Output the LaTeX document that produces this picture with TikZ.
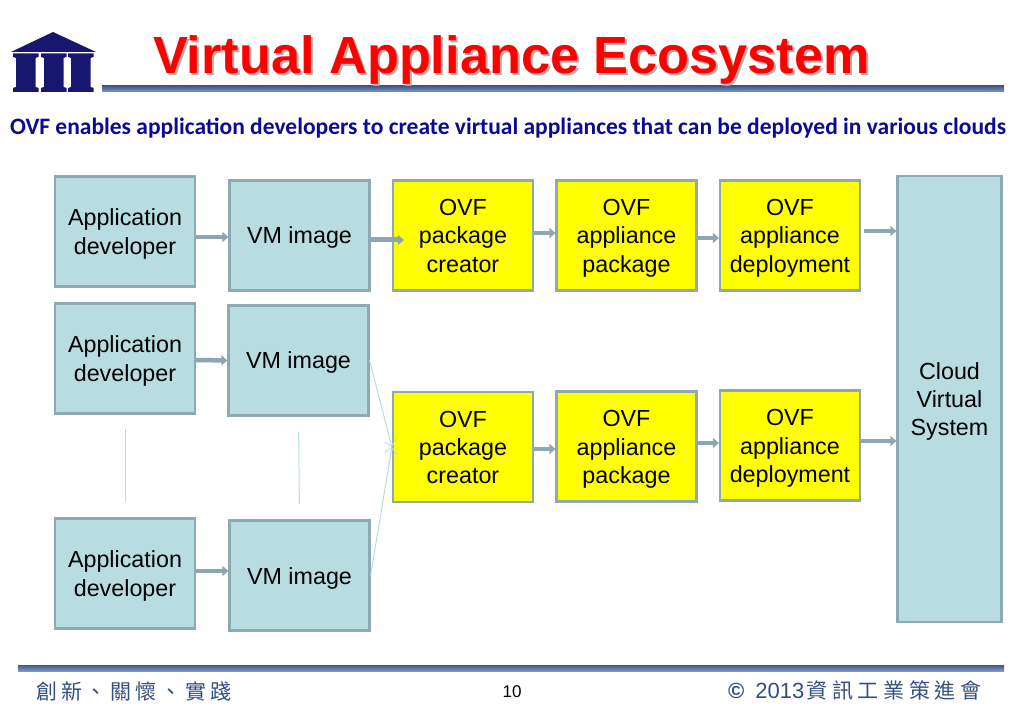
\documentclass[tikz,border=0pt]{standalone}
\usepackage{fontspec}
\setmainfont{Liberation Sans}
\newfontfamily\calibrifont{Carlito}
\newfontfamily\cjkfont{Noto Sans CJK TC}
\usetikzlibrary{arrows.meta}
\definecolor{boxfill}{HTML}{B7DDE3}
\definecolor{boxline}{HTML}{8FA9B0}
\definecolor{arrowcol}{HTML}{8DA6B2}
\definecolor{thinline}{HTML}{BCDCE3}
\definecolor{navy}{HTML}{17176F}
\definecolor{subblue}{HTML}{0A0A96}
\definecolor{footblue}{HTML}{34507F}
\definecolor{ruletop}{HTML}{40598F}
\definecolor{rulebot}{HTML}{7E98C4}
\definecolor{ovfyellow}{rgb}{1,1,0}
\definecolor{titlered}{rgb}{1,0,0}
\definecolor{shadowgray}{HTML}{B0B0B0}
\newcommand{\tx}[1]{\rule{0pt}{23pt}#1\rule[-6pt]{0pt}{6pt}}
\tikzset{
  x=1pt,y=-1pt,
  flowbox/.style={draw=boxline,line width=2.2pt,minimum width=140pt,minimum height=110pt,inner sep=0pt,align=center,text=black,font=\fontsize{23.3}{28.4}\selectfont},
  lightbox/.style={flowbox,fill=boxfill},
  ovfbox/.style={flowbox,fill=ovfyellow},
  flow/.style={draw=arrowcol,line width=4.5pt,-{Triangle[length=6pt,width=10pt]}},
  thinflow/.style={draw=thinline,line width=1pt,-{Straight Barb[length=6pt,width=12pt]}},
  thinrule/.style={draw=thinline,line width=1pt},
  headrule/.style={top color=ruletop,bottom color=rulebot,draw=none},
  column/.style={fill=navy,draw=none},
  titletext/.style={font=\fontsize{52.3}{56}\bfseries\selectfont,inner sep=0pt},
  foot/.style={text=footblue,inner sep=0pt,anchor=west}
}
\begin{document}
\begin{tikzpicture}
\useasboundingbox[fill=white] (0,0) rectangle (1023,708);
% logo
\fill[navy] (11,52) -- (53,32) -- (96,52) -- cycle;
\foreach \x in {13,41,68}{
  \fill[column] (\x,53.5) -- ++(25.5,0) -- ++(0,3.5) -- ++(-3,1) -- ++(0,29) -- ++(3,1) -- ++(0,4) -- ++(-25.5,0) -- ++(0,-4) -- ++(3,-1) -- ++(0,-29) -- ++(-3,-1) -- cycle;
}
% rules
\shade[headrule] (102,86) rectangle (1004,92);
\shade[headrule] (18,665) rectangle (1004,671);
% title
\node[titletext,text=shadowgray] at (513.5,62) {Virtual Appliance Ecosystem};
\node[titletext,text=titlered] (title) at (511.5,60) {Virtual Appliance Ecosystem};
\node[font=\calibrifont\fontsize{23.5}{26}\bfseries\selectfont,text=subblue,inner sep=0pt] (sub) at (508,128) {OVF enables application developers to create virtual appliances that can be deployed in various clouds};
% boxes
\node[lightbox] (A1) at (125,231.5) {\tx{Application\\developer}};
\node[lightbox] (V1) at (299.5,235.5) {\tx{VM image}};
\node[ovfbox] (O1) at (463,235.5) {\tx{OVF\\package\\creator}};
\node[ovfbox] (P1) at (626.5,235.5) {\tx{OVF\\appliance\\package}};
\node[ovfbox] (D1) at (790,235.5) {\tx{OVF\\appliance\\deployment}};
\node[lightbox] (A2) at (125,358.5) {\tx{Application\\developer}};
\node[lightbox] (V2) at (298.5,360.5) {\tx{VM image}};
\node[lightbox] (A3) at (125,573.5) {\tx{Application\\developer}};
\node[lightbox] (V3) at (299.5,575.5) {\tx{VM image}};
\node[ovfbox] (O2) at (463,447) {\tx{OVF\\package\\creator}};
\node[ovfbox] (P2) at (626.5,446.5) {\tx{OVF\\appliance\\package}};
\node[ovfbox] (D2) at (790,445.5) {\tx{OVF\\appliance\\deployment}};
\node[lightbox,minimum width=104pt,minimum height=446pt] (C) at (949.5,399) {\tx{Cloud\\Virtual\\System}};
% connectors
\draw[flow] ([yshift=-5.5pt]A1.east) -- ([yshift=-1.5pt]V1.west);
\draw[flow,line width=5pt,shorten >=-12pt] ([yshift=-4.5pt]V1.east) -- ([yshift=-4.5pt]O1.west);
\draw[flow] ([yshift=2.5pt]O1.east) -- ([yshift=2.5pt]P1.west);
\draw[flow] ([yshift=-2.5pt]P1.east) -- ([yshift=-2.5pt]D1.west);
\draw[flow,shorten <=3pt] ([yshift=4.5pt]D1.east) -- (C.west |- {0,231});
\draw[flow] ([yshift=-1.5pt]A2.east) -- (V2.west);
\draw[flow] ([yshift=2.5pt]A3.east) -- ([yshift=4.5pt]V3.west);
\draw[flow] ([yshift=-2pt]O2.east) -- ([yshift=-2.5pt]P2.west);
\draw[flow] ([yshift=3.5pt]P2.east) -- ([yshift=2.5pt]D2.west);
\draw[flow] ([yshift=4.5pt]D2.east) -- (C.west |- {0,441});
\draw[thinflow] (V2.east) -- (O2.west);
\draw[thinflow] (V3.east) -- (O2.west);
\draw[thinrule,shorten <=14pt,shorten >=15pt] (A2.south) -- (A3.north);
\draw[thinrule,shorten <=15pt,shorten >=15pt] (V2.south) -- (V3.north);
% footer
\node[foot,font=\cjkfont\fontsize{21}{24}\selectfont] (fl) at (36,691) {創\hspace{3.9pt}新\hspace{3.9pt}、\hspace{3.9pt}關\hspace{3.9pt}懷\hspace{3.9pt}、\hspace{3.9pt}實\hspace{3.9pt}踐};
\node[font=\fontsize{17}{20}\selectfont,inner sep=0pt] (num) at (512,692) {10};
\node[foot,font=\fontsize{22}{24}\selectfont] (fr) at (728,690) {{\bfseries©}\hspace{11pt}2013\cjkfont\fontsize{21}{24}\selectfont\hspace{2pt}資\hspace{4.7pt}訊\hspace{4.7pt}工\hspace{4.7pt}業\hspace{4.7pt}策\hspace{4.7pt}進\hspace{4.7pt}會};
\end{tikzpicture}
\end{document}
